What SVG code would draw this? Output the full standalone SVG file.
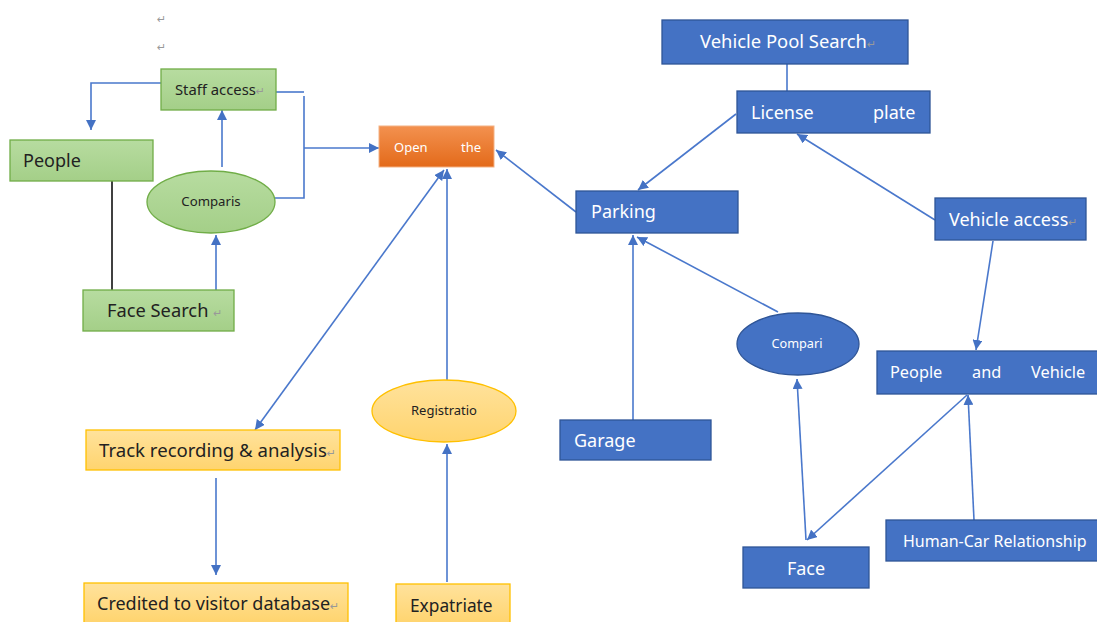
<svg xmlns="http://www.w3.org/2000/svg" width="1097" height="622" viewBox="0 0 1097 622">
<defs>
<linearGradient id="gG" x1="0" y1="0" x2="0" y2="1"><stop offset="0" stop-color="#b7dca0"/><stop offset="1" stop-color="#a4cf88"/></linearGradient>
<linearGradient id="gY" x1="0" y1="0" x2="0" y2="1"><stop offset="0" stop-color="#ffe29c"/><stop offset="1" stop-color="#ffd46e"/></linearGradient>
<linearGradient id="gO" x1="0" y1="0" x2="0" y2="1"><stop offset="0" stop-color="#f3914f"/><stop offset="1" stop-color="#e36a1a"/></linearGradient>
<marker id="ah" viewBox="0 0 10 10" refX="10" refY="5" markerWidth="10" markerHeight="10" markerUnits="userSpaceOnUse" orient="auto-start-reverse"><path d="M0,0 L10,5 L0,10 z" fill="#4472c4"/></marker>
<style>
.bl{fill:#4472c4;stroke:#2f5597;stroke-width:1.3}
.gr{fill:url(#gG);stroke:#70ad47;stroke-width:1.3}
.ye{fill:url(#gY);stroke:#ffc000;stroke-width:1.3}
.or{fill:url(#gO);stroke:#f4b183;stroke-width:1}
.c{fill:none;stroke:#4a78cc;stroke-width:1.6}
.k{fill:none;stroke:#000;stroke-width:1.5}
text{font-family:"Noto Sans","DejaVu Sans",sans-serif}
.w{fill:#fff}
.d{fill:#222}
.rm{fill:#999;font-size:11px}
</style>
</defs>
<text class="rm" x="157" y="23">↵</text>
<text class="rm" x="157" y="51">↵</text>

<g id="connectors">
<polyline class="c" points="161,83 91,83 91,130" marker-end="url(#ah)"/>
<line class="c" x1="222" y1="167" x2="222" y2="110" marker-end="url(#ah)"/>
<line class="c" x1="216" y1="290" x2="216" y2="235" marker-end="url(#ah)"/>
<line class="k" x1="112" y1="181" x2="112" y2="290"/>
<polyline class="c" points="276,92 304,92"/>
<polyline class="c" points="275,198 304,198 304,96"/>
<line class="c" x1="304" y1="148" x2="379" y2="148" marker-end="url(#ah)"/>
<line class="c" x1="576" y1="212" x2="496" y2="150" marker-end="url(#ah)"/>
<line class="c" x1="444" y1="170" x2="255" y2="430" marker-start="url(#ah)" marker-end="url(#ah)"/>
<line class="c" x1="447" y1="380" x2="447" y2="169" marker-end="url(#ah)"/>
<line class="c" x1="447" y1="582" x2="447" y2="444" marker-end="url(#ah)"/>
<line class="c" x1="216" y1="478" x2="216" y2="575" marker-end="url(#ah)"/>
<line class="c" x1="787" y1="64" x2="787" y2="91"/>
<line class="c" x1="736" y1="114" x2="638" y2="190" marker-end="url(#ah)"/>
<line class="c" x1="935" y1="220" x2="797" y2="134" marker-end="url(#ah)"/>
<line class="c" x1="633" y1="420" x2="633" y2="235" marker-end="url(#ah)"/>
<line class="c" x1="778" y1="312" x2="637" y2="237" marker-end="url(#ah)"/>
<line class="c" x1="993" y1="241" x2="976" y2="350" marker-end="url(#ah)"/>
<line class="c" x1="806" y1="540" x2="797" y2="379" marker-end="url(#ah)"/>
<line class="c" x1="967" y1="395" x2="807" y2="540" marker-end="url(#ah)"/>
<line class="c" x1="974" y1="520" x2="968" y2="395" marker-end="url(#ah)"/>
</g>

<g id="staff-access"><rect class="gr" x="161" y="69" width="115" height="41"/><text class="d" x="175" y="95" font-size="14.8">Staff access<tspan class="rm" font-size="10">↵</tspan></text></g>
<g id="people"><rect class="gr" x="10" y="140" width="143" height="41"/><text class="d" x="23" y="167" font-size="18">People</text></g>
<g id="comparis"><ellipse class="gr" cx="211" cy="202" rx="64" ry="31"/><text class="d" x="211" y="206" font-size="13.2" text-anchor="middle">Comparis</text></g>
<g id="face-search"><rect class="gr" x="83" y="290" width="151" height="41"/><text class="d" x="107" y="317" font-size="18.3">Face Search <tspan class="rm" font-size="12">↵</tspan></text></g>

<g id="open-the"><rect class="or" x="379" y="126" width="115" height="41"/><text class="w" x="394" y="152" font-size="13">Open</text><text class="w" x="461" y="152" font-size="13">the</text></g>

<g id="track"><rect class="ye" x="86" y="430" width="254" height="40"/><text class="d" x="99" y="457" font-size="18.6">Track recording &amp; analysis<tspan class="rm" font-size="11">↵</tspan></text></g>
<g id="credited"><rect class="ye" x="84" y="583" width="264" height="40"/><text class="d" x="97" y="610" font-size="18">Credited to visitor database<tspan class="rm" font-size="11">↵</tspan></text></g>
<g id="registratio"><ellipse class="ye" cx="444" cy="411" rx="72" ry="31"/><text class="d" x="444" y="415" font-size="13" text-anchor="middle">Registratio</text></g>
<g id="expatriate"><rect class="ye" x="396" y="584" width="114" height="40"/><text class="d" x="410" y="612" font-size="17.3">Expatriate</text></g>

<g id="vehicle-pool-search"><rect class="bl" x="662" y="20" width="246" height="44"/><text class="w" x="700" y="48" font-size="18.4">Vehicle Pool Search<tspan class="rm" font-size="11">↵</tspan></text></g>
<g id="license-plate"><rect class="bl" x="737" y="91" width="193" height="42"/><text class="w" x="751" y="119" font-size="18">License</text><text class="w" x="873" y="119" font-size="18">plate</text></g>
<g id="parking"><rect class="bl" x="576" y="191" width="162" height="42"/><text class="w" x="591" y="218" font-size="18">Parking</text></g>
<g id="vehicle-access"><rect class="bl" x="935" y="198" width="151" height="42"/><text class="w" x="949" y="226" font-size="18">Vehicle access<tspan class="rm" font-size="11">↵</tspan></text></g>
<g id="compari"><ellipse class="bl" cx="798" cy="344" rx="61" ry="31"/><text class="w" x="797" y="348" font-size="12.7" text-anchor="middle">Compari</text></g>
<g id="people-and-vehicle"><rect class="bl" x="877" y="351" width="222" height="43"/><text class="w" x="890" y="378" font-size="16.3">People</text><text class="w" x="972" y="378" font-size="16.3">and</text><text class="w" x="1031" y="378" font-size="16.3">Vehicle</text></g>
<g id="garage"><rect class="bl" x="560" y="420" width="151" height="40"/><text class="w" x="574" y="447" font-size="18">Garage</text></g>
<g id="face"><rect class="bl" x="743" y="547" width="126" height="41"/><text class="w" x="806" y="575" font-size="18" text-anchor="middle">Face</text></g>
<g id="human-car"><rect class="bl" x="886" y="520" width="213" height="41"/><text class="w" x="903" y="547" font-size="16">Human-Car Relationship</text></g>
</svg>
